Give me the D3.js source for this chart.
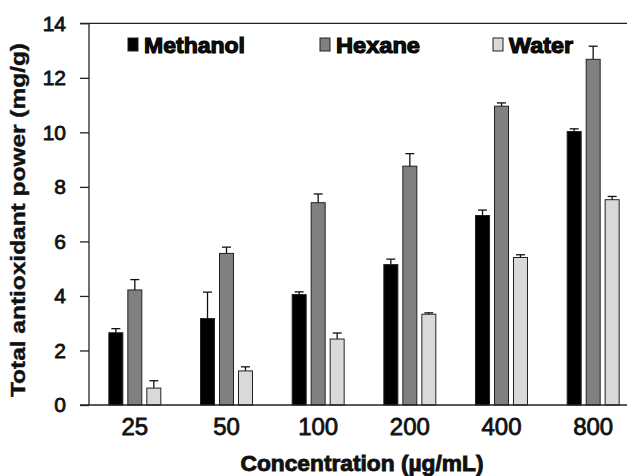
<!DOCTYPE html>
<html>
<head>
<meta charset="utf-8">
<script src="https://cdn.jsdelivr.net/npm/d3@7"></script>
<style>
  body { margin: 0; background: #fff; }
  text { font-family: "Liberation Sans", Arial, sans-serif; fill: #111; }
</style>
</head>
<body>
<svg id="chart"></svg>
<script>
// ── Data ─────────────────────────────────────────────────────────────────────
const concentrations = ['25', '50', '100', '200', '400', '800'];
const seriesNames    = ['Methanol', 'Hexane', 'Water'];

const methanol    = [2.65, 3.17, 4.05, 5.15, 6.95, 10.03];
const methanolErr = [0.15, 0.97, 0.10, 0.20, 0.20, 0.10];
const hexane      = [4.22, 5.56, 7.42, 8.76, 10.96, 12.68];
const hexaneErr   = [0.38, 0.23, 0.32, 0.46, 0.12, 0.48];
const water       = [0.62, 1.25, 2.42, 3.33, 5.41, 7.53];
const waterErr    = [0.27, 0.15, 0.22, 0.05, 0.10, 0.12];

const yTicks = [0, 2, 4, 6, 8, 10, 12, 14];

const values = { Methanol: methanol, Hexane: hexane, Water: water };
const errors = { Methanol: methanolErr, Hexane: hexaneErr, Water: waterErr };
const fills  = { Methanol: '#000000', Hexane: '#808080', Water: '#d9d9d9' };

// ── Layout ───────────────────────────────────────────────────────────────────
const W = 627, H = 476;
const axisX = 89, tickLen = 9;

const svg = d3.select('#chart')
  .attr('width', W)
  .attr('height', H)
  .attr('viewBox', `0 0 ${W} ${H}`);

const y = d3.scaleLinear().domain([0, 14]).range([405, 23.3]);

// groups run past the right edge of the picture (it is cropped there)
const x0 = d3.scaleBand()
  .domain(concentrations)
  .range([axisX, 639])
  .paddingInner(0.433)
  .paddingOuter(0.2165);

const x1 = d3.scaleBand()
  .domain(seriesNames)
  .range([0, x0.bandwidth()])
  .paddingInner(0.263);

// rows: one per concentration × series
const rows = [];
concentrations.forEach((c, i) => {
  seriesNames.forEach(s => rows.push({ c, s, v: values[s][i], e: errors[s][i] }));
});

// ── Bars ─────────────────────────────────────────────────────────────────────
svg.append('g')
  .selectAll('rect')
  .data(rows)
  .join('rect')
    .attr('x',      d => x0(d.c) + x1(d.s))
    .attr('y',      d => y(d.v))
    .attr('width',  x1.bandwidth())
    .attr('height', d => y(0) - y(d.v))
    .attr('fill',   d => fills[d.s])
    .attr('stroke', '#222')
    .attr('stroke-width', 1);

// ── Error bars (upper only) ──────────────────────────────────────────────────
const err = svg.append('g')
  .attr('stroke', '#111')
  .attr('stroke-width', 1.3);

err.selectAll('line.stem')
  .data(rows)
  .join('line')
    .attr('class', 'stem')
    .attr('x1', d => x0(d.c) + x1(d.s) + x1.bandwidth() / 2)
    .attr('x2', d => x0(d.c) + x1(d.s) + x1.bandwidth() / 2)
    .attr('y1', d => y(d.v))
    .attr('y2', d => y(d.v + d.e));

err.selectAll('line.cap')
  .data(rows)
  .join('line')
    .attr('class', 'cap')
    .attr('x1', d => x0(d.c) + x1(d.s) + x1.bandwidth() / 2 - 4.5)
    .attr('x2', d => x0(d.c) + x1(d.s) + x1.bandwidth() / 2 + 4.5)
    .attr('y1', d => y(d.v + d.e))
    .attr('y2', d => y(d.v + d.e));

// ── Axes ─────────────────────────────────────────────────────────────────────
const yAxis = svg.append('g')
  .attr('transform', `translate(${axisX},0)`)
  .call(d3.axisLeft(y).tickValues(yTicks).tickSize(tickLen).tickPadding(14));
yAxis.select('.domain').remove();
yAxis.selectAll('.tick line').attr('stroke', '#222').attr('stroke-width', 1.3);
yAxis.selectAll('.tick text')
  .attr('font-size', 21)
  .attr('font-family', '"Liberation Sans", Arial, sans-serif')
  .attr('fill', '#111')
  .attr('stroke', '#111')
  .attr('stroke-width', 0.8);

const xAxis = svg.append('g')
  .attr('transform', `translate(0,${y(0)})`)
  .call(d3.axisBottom(x0).tickSize(0).tickPadding(13));
xAxis.select('.domain').remove();
xAxis.selectAll('.tick text')
  .attr('font-size', 24)
  .attr('font-family', '"Liberation Sans", Arial, sans-serif')
  .attr('fill', '#111')
  .attr('stroke', '#111')
  .attr('stroke-width', 0.8);

// frame lines: left axis, baseline, top border
const frame = svg.append('g').attr('stroke', '#222').attr('stroke-width', 1.3);
frame.append('line')
  .attr('x1', axisX).attr('x2', axisX)
  .attr('y1', y(0)).attr('y2', y(14));
frame.append('line')
  .attr('x1', axisX - tickLen).attr('x2', W)
  .attr('y1', y(0)).attr('y2', y(0));
frame.append('line')
  .attr('x1', axisX - tickLen).attr('x2', W)
  .attr('y1', y(14)).attr('y2', y(14));

// ── Axis titles ──────────────────────────────────────────────────────────────
svg.append('text')
  .attr('x', 362)
  .attr('y', 471)
  .attr('text-anchor', 'middle')
  .attr('font-size', 22)
  .attr('font-weight', 'bold')
  .attr('textLength', 243)
  .attr('lengthAdjust', 'spacingAndGlyphs')
  .attr('stroke', '#111')
  .attr('stroke-width', 0.9)
  .text('Concentration (µg/mL)');

svg.append('text')
  .attr('transform', 'translate(25,220) rotate(-90)')
  .attr('text-anchor', 'middle')
  .attr('font-size', 21)
  .attr('font-weight', 'bold')
  .attr('textLength', 354)
  .attr('lengthAdjust', 'spacingAndGlyphs')
  .attr('stroke', '#111')
  .attr('stroke-width', 0.4)
  .text('Total antioxidant power (mg/g)');

// ── Legend ───────────────────────────────────────────────────────────────────
const legendX      = [128, 320, 493];
const legendWidths = [101, 84, 64];

const legend = svg.append('g')
  .selectAll('g')
  .data(seriesNames)
  .join('g')
    .attr('transform', (d, i) => `translate(${legendX[i]},38)`);

legend.append('rect')
  .attr('width', 10)
  .attr('height', 13)
  .attr('fill', d => fills[d])
  .attr('stroke', '#222')
  .attr('stroke-width', 1);

legend.append('text')
  .attr('x', 16)
  .attr('y', 15)
  .attr('font-size', 22)
  .attr('font-weight', 'bold')
  .attr('textLength', (d, i) => legendWidths[i])
  .attr('lengthAdjust', 'spacingAndGlyphs')
  .attr('stroke', '#000')
  .attr('stroke-width', 1.1)
  .text(d => d);
</script>
</body>
</html>
